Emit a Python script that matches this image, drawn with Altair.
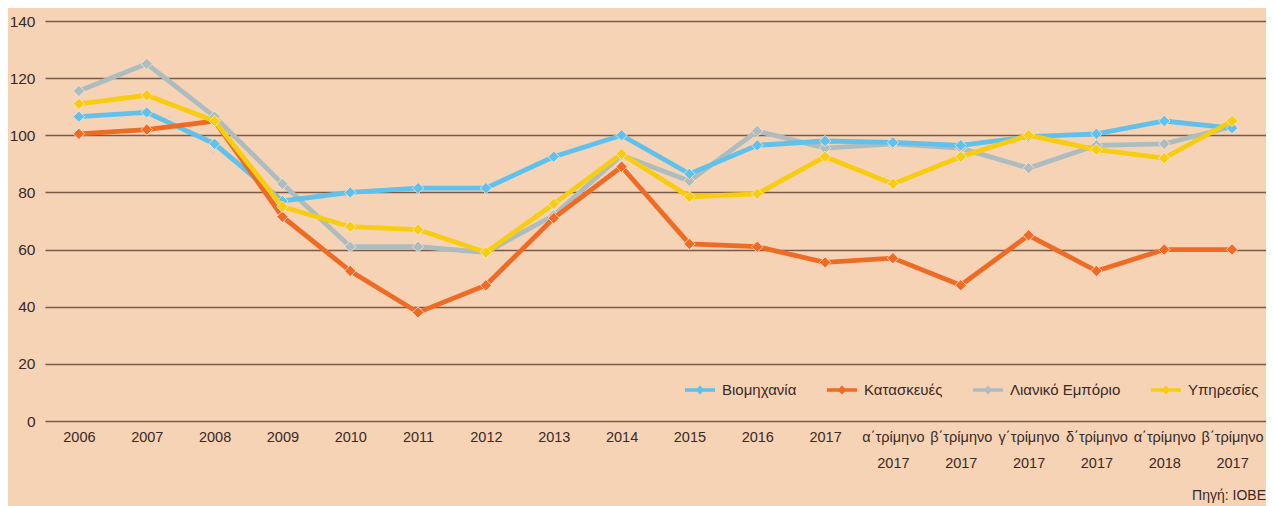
import altair as alt
import pandas as pd

labels = ["2006", "2007", "2008", "2009", "2010", "2011", "2012", "2013", "2014",
          "2015", "2016", "2017",
          "α΄τρίμηνο|2017", "β΄τρίμηνο|2017", "γ΄τρίμηνο|2017", "δ΄τρίμηνο|2017",
          "α΄τρίμηνο|2018", "β΄τρίμηνο|2017"]

series_names = ["Βιομηχανία", "Κατασκευές", "Λιανικό Εμπόριο", "Υπηρεσίες"]
series_colors = ["#5fc1ec", "#ee6b26", "#adbdbf", "#f6cd10"]

industry = [106.5, 108, 97, 77, 80, 81.5, 81.5, 92.5, 100, 86.5, 96.5, 98, 97.5, 96.5, 99.5, 100.5, 105, 102.5]
construction = [100.5, 102, 105, 71.5, 52.5, 38, 47.5, 71, 89, 62, 61, 55.5, 57, 47.5, 65, 52.5, 60, 60]
retail = [115.5, 125, 106.5, 83, 61, 61, 59, 72, 93, 84, 101.5, 95.5, 97, 95.5, 88.5, 96.5, 97, 103]
services = [111, 114, 105, 75, 68, 67, 59, 76, 93.5, 78.5, 79.5, 92.5, 83, 92.5, 100, 95, 92, 105]

values = [industry, construction, retail, services]

rows = []
for name, vals in zip(series_names, values):
    for i, v in enumerate(vals):
        rows.append({"idx": i, "value": v, "series": name})
df = pd.DataFrame(rows)

FONT = "Liberation Sans, Arial, sans-serif"
TXT = "#3a2a25"
label_js = "[" + ",".join("'" + l + "'" for l in labels) + "]"

color_scale = alt.Scale(domain=series_names, range=series_colors)

legend = alt.Legend(
    title=None, orient="none", direction="horizontal", columns=4,
    legendX=640, legendY=354,
    symbolType="M-1,-0.11L1,-0.11L1,0.11L-1,0.11Z M0,-0.3L0.3,0L0,0.3L-0.3,0Z",
    symbolSize=900, symbolStrokeWidth=0, symbolOpacity=1,
    labelFont=FONT, labelFontSize=15, labelColor=TXT,
    columnPadding=30, labelOffset=7,
)

x_enc = alt.X("idx:O", title=None,
              scale=alt.Scale(type="point", padding=0.5),
              axis=alt.Axis(labelAngle=0, ticks=False, domain=False, grid=False,
                            labelExpr="split(" + label_js + "[datum.value], '|')",
                            labelFont=FONT, labelFontSize=14.5, labelColor=TXT,
                            labelPadding=9, labelLineHeight=26))
y_enc = alt.Y("value:Q", title=None,
              scale=alt.Scale(domain=[0, 140], nice=False, zero=True),
              axis=alt.Axis(values=[0, 20, 40, 60, 80, 100, 120, 140], ticks=False, domain=False,
                            grid=True, gridColor="#7a5a48", gridWidth=1.6,
                            labelFont=FONT, labelFontSize=15.5, labelColor=TXT,
                            labelPadding=10))

draw_order = ["Λιανικό Εμπόριο", "Βιομηχανία", "Κατασκευές", "Υπηρεσίες"]
layers = []
for name in draw_order:
    layer = alt.Chart(df).transform_filter(alt.datum.series == name).mark_line(
        strokeWidth=4.8,
        point=alt.OverlayMarkDef(shape="diamond", filled=True, size=130, stroke="#fbe6d6", strokeWidth=0.8),
    ).encode(
        x=x_enc, y=y_enc,
        color=alt.Color("series:N", scale=color_scale, legend=legend),
    )
    layers.append(layer)

chart = alt.layer(*layers).properties(
    width=1221, height=400,
    background="#f6d3b5",
    padding={"left": 37, "top": 13, "right": 0, "bottom": 85},
    autosize=alt.AutoSizeParams(type="none"),
    title=alt.TitleParams(text="Πηγή: ΙΟΒΕ", orient="bottom", anchor="end",
                          font=FONT, fontSize=14, fontWeight="normal", color=TXT, offset=19),
).configure_view(stroke=None)

chart.save("out.html", embed_options={"renderer": "svg", "actions": False})
